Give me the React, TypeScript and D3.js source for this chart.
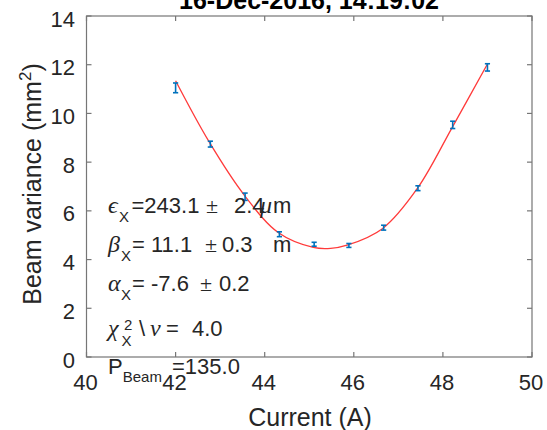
import React from "react";
import * as d3 from "d3";

const titleText = "16-Dec-2016, 14:19:02";
const xTicks = [40, 42, 44, 46, 48, 50];
const yTicks = [0, 2, 4, 6, 8, 10, 12, 14];

const current = [42.0, 42.78, 43.56, 44.33, 45.11, 45.89, 46.67, 47.44, 48.22, 49.0];
const variance = [11.05, 8.74, 6.58, 5.04, 4.63, 4.58, 5.31, 6.93, 9.53, 11.89];
const errors = [0.2, 0.12, 0.15, 0.1, 0.08, 0.08, 0.1, 0.1, 0.15, 0.15];

const fitCurrent = [42.0, 42.75, 43.54, 44.31, 45.09, 45.48, 45.85, 46.65, 47.43, 48.21, 49.0];
const fitVariance = [11.34, 8.84, 6.65, 5.1, 4.5, 4.46, 4.59, 5.28, 6.93, 9.43, 12.03];

const W = 547;
const H = 430;
const SANS = "'Liberation Sans', Arial, Helvetica, sans-serif";
const SERIF = "'Liberation Serif', 'Times New Roman', serif";
const TXT = "#262626";
const AX = "#767676";

export default function App() {
  const x = d3.scaleLinear().domain([40, 50]).range([86.5, 532]);
  const y = d3.scaleLinear().domain([0, 14]).range([357, 16]);
  const [x0, x1] = x.range();
  const [y0, y1] = y.range();
  const tl = 5;

  const line = d3
    .line<number>()
    .x((_, i) => x(fitCurrent[i]))
    .y((d) => y(d))
    .curve(d3.curveCatmullRom.alpha(0.5));

  const sub = { fontSize: 15 } as const;
  const greek = { fontFamily: SERIF, fontStyle: "italic", fontSize: 24 } as const;

  return (
    <svg
      width={W}
      height={H}
      style={{ position: "absolute", left: 0, top: 0, background: "#fff" }}
      fontFamily={SANS}
    >
      <rect x={0} y={0} width={W} height={H} fill="#fff" />
      {/* title */}
      <text x={309} y={9} textAnchor="middle" fontSize={25} fontWeight="bold" fill="#000">
        {titleText}
      </text>

      {/* box */}
      <rect x={x0} y={y1} width={x1 - x0} height={y0 - y1} fill="none" stroke={AX} strokeWidth={1.2} />

      {/* x ticks */}
      {xTicks.map((t) => (
        <g key={"xt" + t}>
          <line x1={x(t)} x2={x(t)} y1={y0} y2={y0 - tl} stroke={AX} strokeWidth={1.2} />
          <line x1={x(t)} x2={x(t)} y1={y1} y2={y1 + tl} stroke={AX} strokeWidth={1.2} />
          <text x={x(t) - 1} y={390} textAnchor="middle" fontSize={22} fill={TXT}>
            {t}
          </text>
        </g>
      ))}
      {/* y ticks */}
      {yTicks.map((t) => (
        <g key={"yt" + t}>
          <line x1={x0} x2={x0 + tl} y1={y(t)} y2={y(t)} stroke={AX} strokeWidth={1.2} />
          <line x1={x1} x2={x1 - tl} y1={y(t)} y2={y(t)} stroke={AX} strokeWidth={1.2} />
          <text x={75} y={y(t) + 10.5} textAnchor="end" fontSize={22} fill={TXT}>
            {t}
          </text>
        </g>
      ))}

      {/* axis labels */}
      <text x={310} y={426} textAnchor="middle" fontSize={25} fill={TXT}>
        Current (A)
      </text>
      <text transform="translate(40.5,184) rotate(-90)" textAnchor="middle" fontSize={25} fill={TXT}>
        Beam variance (mm
        <tspan fontSize={17} dy={-10}>2</tspan>
        <tspan dy={10}>)</tspan>
      </text>

      {/* fit curve */}
      <path d={line(fitVariance) || ""} fill="none" stroke="#ff3a3a" strokeWidth={1.3} />

      {/* error bars */}
      {current.map((c, i) => {
        const cx = x(c);
        const ya = y(variance[i] + errors[i]);
        const yb = y(variance[i] - errors[i]);
        return (
          <g key={"e" + i} stroke="#0072BD" strokeWidth={1.6}>
            <line x1={cx} x2={cx} y1={ya} y2={yb} />
            <line x1={cx - 2.6} x2={cx + 2.6} y1={ya} y2={ya} />
            <line x1={cx - 2.6} x2={cx + 2.6} y1={yb} y2={yb} />
          </g>
        );
      })}

      {/* annotations */}
      <g fontSize={22} fill={TXT}>
        <text x={108} y={213.3}>
          <tspan {...greek}>ϵ</tspan>
          <tspan {...sub} x={119} dy={9}>X</tspan>
          <tspan dy={-9} x={131.5}>=243.1</tspan>
          <tspan fontFamily={SERIF} x={206}>±</tspan>
          <tspan x={234}>2.4</tspan>
          <tspan {...greek} x={260}>μ</tspan>
          <tspan x={273}>m</tspan>
        </text>
        <text x={108} y={251.5}>
          <tspan {...greek}>β</tspan>
          <tspan {...sub} x={121} dy={9}>X</tspan>
          <tspan dy={-9} x={132}>= 11.1</tspan>
          <tspan fontFamily={SERIF} x={205}>±</tspan>
          <tspan x={222}>0.3</tspan>
          <tspan x={273}>m</tspan>
        </text>
        <text x={108} y={290.5}>
          <tspan {...greek}>α</tspan>
          <tspan {...sub} x={121} dy={9}>X</tspan>
          <tspan dy={-9} x={132}>= -7.6</tspan>
          <tspan fontFamily={SERIF} x={200}>±</tspan>
          <tspan x={219}>0.2</tspan>
        </text>
        <text x={108} y={335.5}>
          <tspan {...greek}>χ</tspan>
          <tspan {...sub} x={124} dy={-6}>2</tspan>
          <tspan {...sub} x={121.5} dy={16}>X</tspan>
          <tspan dy={-10} x={139}>\</tspan>
          <tspan {...greek} x={150}>ν</tspan>
          <tspan x={166}>=</tspan>
          <tspan x={192}>4.0</tspan>
        </text>
        <text x={108} y={374}>
          <tspan>P</tspan>
          <tspan {...sub} dy={8}>Beam</tspan>
          <tspan dy={-8} x={172}>=135.0</tspan>
        </text>
      </g>
    </svg>
  );
}
